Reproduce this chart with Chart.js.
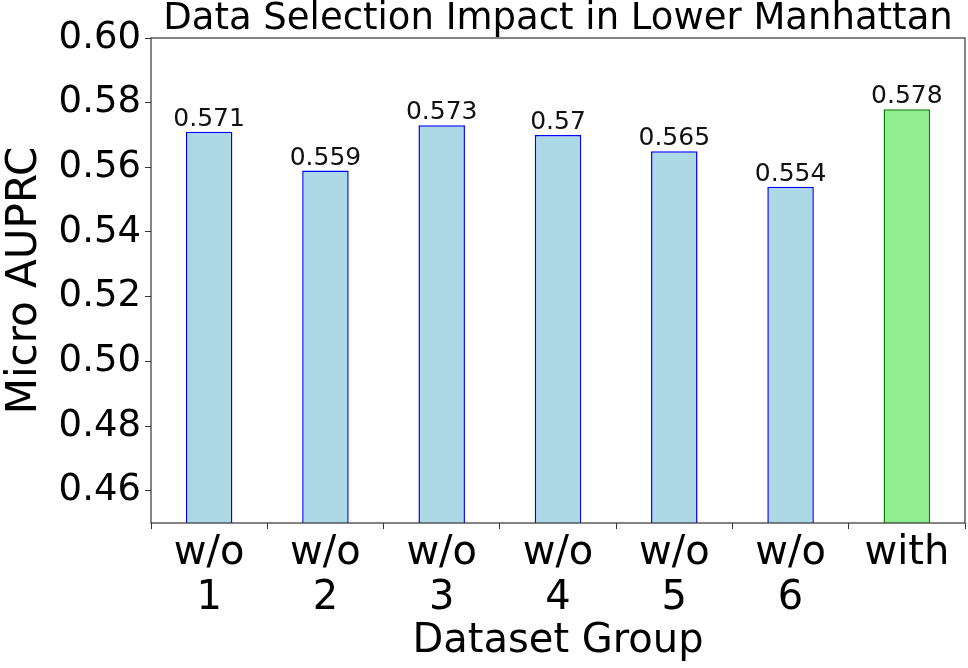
<!DOCTYPE html>
<html>
<head>
<meta charset="utf-8">
<script src="https://cdn.jsdelivr.net/npm/chart.js@4.4.1/dist/chart.umd.min.js"></script>
<style>
  html, body { margin: 0; padding: 0; background: #fff; }
  #wrap { width: 968px; height: 668px; }
</style>
</head>
<body>
<div id="wrap"><canvas id="chart" width="968" height="668"></canvas></div>
<script>
// data
const CATEGORIES = [['w/o', '1'], ['w/o', '2'], ['w/o', '3'], ['w/o', '4'], ['w/o', '5'], ['w/o', '6'], ['with']];
const AUPRC = [0.571, 0.559, 0.573, 0.57, 0.565, 0.554, 0.578];
const Y_TICKS = [0.46, 0.48, 0.50, 0.52, 0.54, 0.56, 0.58, 0.60];
const TITLE = 'Data Selection Impact in Lower Manhattan';

const FONT = 'DejaVu Sans';

// frame round the plot + title centred over the plot area (like matplotlib)
const framePlugin = {
    id: 'frame',
    afterDraw(chart) {
        const a = chart.chartArea;
        const ctx = chart.ctx;
        ctx.save();
        ctx.strokeStyle = '#333';
        ctx.lineWidth = 1.2;
        ctx.strokeRect(a.left, a.top, a.right - a.left, a.bottom - a.top);
        ctx.font = '37px ' + FONT;
        ctx.fillStyle = '#000';
        ctx.textAlign = 'center';
        ctx.textBaseline = 'alphabetic';
        ctx.fillText(TITLE, (a.left + a.right) / 2, a.top - 9);
        ctx.restore();
    }
};

// value labels above each bar
const valueLabels = {
    id: 'valueLabels',
    afterDatasetsDraw(chart) {
        const ctx = chart.ctx;
        const meta = chart.getDatasetMeta(0);
        ctx.save();
        ctx.font = '25px ' + FONT;
        ctx.fillStyle = '#111';
        ctx.textAlign = 'center';
        ctx.textBaseline = 'alphabetic';
        meta.data.forEach((bar, i) => {
            ctx.fillText(String(AUPRC[i]), bar.x, bar.y - 6);
        });
        ctx.restore();
    }
};

const ctx = document.getElementById('chart').getContext('2d');
new Chart(ctx, {
    type: 'bar',
    data: {
        labels: CATEGORIES,
        datasets: [{
            data: AUPRC,
            backgroundColor: AUPRC.map((v, i) => i === AUPRC.length - 1 ? '#90ee90' : '#add8e6'),
            borderColor: AUPRC.map((v, i) => i === AUPRC.length - 1 ? '#008000' : '#0000ff'),
            borderWidth: 1.5,
            borderSkipped: false,
            barPercentage: 0.4,
            categoryPercentage: 1.0
        }]
    },
    options: {
        responsive: false,
        animation: false,
        layout: { padding: { left: 0, right: 3, top: 38, bottom: 0 } },
        plugins: {
            legend: { display: false },
            tooltip: { enabled: false },
            title: { display: false }
        },
        scales: {
            x: {
                grid: { display: true, drawOnChartArea: false, drawTicks: true, tickLength: 6, color: '#333' },
                border: { display: false },
                ticks: {
                    color: '#000',
                    font: { family: FONT, size: 40, lineHeight: 1.12 },
                    padding: 2,
                    maxRotation: 0,
                    autoSkip: false
                },
                title: {
                    display: true,
                    text: 'Dataset Group',
                    color: '#000',
                    font: { family: FONT, size: 40 },
                    padding: { top: 0, bottom: 2 }
                },
                afterFit(scale) { scale.height = 145; }
            },
            y: {
                min: 0.45,
                max: 0.60,
                grid: { display: true, drawOnChartArea: false, drawTicks: true, tickLength: 6, color: '#333' },
                border: { display: false },
                afterBuildTicks(scale) { scale.ticks = Y_TICKS.map(v => ({ value: v })); },
                ticks: {
                    color: '#000',
                    font: { family: FONT, size: 37 },
                    padding: 4,
                    callback: v => Number(v).toFixed(2)
                },
                title: {
                    display: true,
                    text: 'Micro AUPRC',
                    color: '#000',
                    font: { family: FONT, size: 42 },
                    padding: { top: 0, bottom: 0 }
                },
                afterFit(scale) { scale.width = 151; }
            }
        }
    },
    plugins: [framePlugin, valueLabels]
});
</script>
</body>
</html>
